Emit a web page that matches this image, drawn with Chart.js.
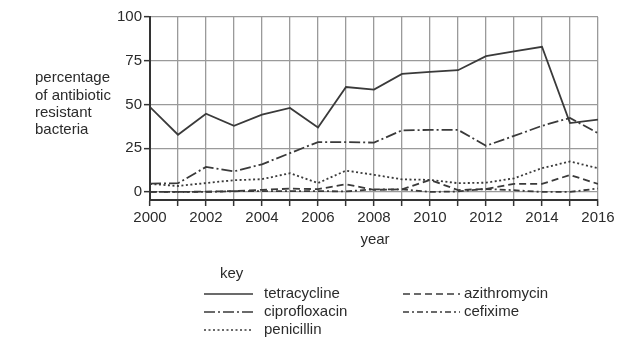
<!DOCTYPE html>
<html>
<head>
<meta charset="utf-8">
<script src="https://cdn.jsdelivr.net/npm/chart.js@4/dist/chart.umd.min.js"></script>
<style>
html,body{margin:0;padding:0;background:#fff;}
#wrap{width:639px;height:352px;position:relative;}
</style>
</head>
<body>
<div id="wrap"><canvas id="c" width="639" height="352"></canvas></div>
<script>
const years = [2000,2001,2002,2003,2004,2005,2006,2007,2008,2009,2010,2011,2012,2013,2014,2015,2016];
const tetracycline = [48.5,32.7,44.7,37.8,44.2,48,36.9,60,58.5,67.5,68.6,69.6,77.6,80.4,83,39.4,41.3];
const ciprofloxacin = [4.8,5,14.3,11.8,15.8,22.2,28.5,28.5,28.2,35.2,35.5,35.5,26.4,32,37.8,42.3,33.6];
const penicillin = [4.6,3.4,5.1,6.7,7.3,10.7,5.1,12.2,9.8,7.2,6.9,5,5.3,7.8,13.6,17.4,13.6];
const azithromycin = [0,0,0.2,0.5,1.2,1.9,1.6,4.4,1.2,1.5,6.9,1.1,1.7,4.6,4.6,9.7,4.6];
const cefixime = [0,0,0,0.4,0.5,0.5,0.5,0.3,1.5,1.5,0,0.3,1.7,1.0,0,0,2.0];
const yTickValues = [0,25,50,75,100];
const yTitleLines = ["percentage","of antibiotic","resistant","bacteria"];

const FONT = '"Liberation Sans", Arial, sans-serif';
const TXT = '#2b2b2b';
const LINE = '#3a3a3a';

const styles = {
  tetracycline: [],
  azithromycin: [7,4],
  ciprofloxacin: [11,3,2,3],
  cefixime: [6,3,2,3],
  penicillin: [2,2.5]
};

function ds(label, data, dash){
  return {
    label, data: years.map((y,i)=>({x:y,y:data[i]})),
    borderColor: LINE, borderWidth: 1.8, borderDash: dash,
    pointRadius: 0, tension: 0, fill: false
  };
}

const extras = {
  id: 'extras',
  afterDraw(chart){
    const ctx = chart.ctx;
    ctx.save();
    ctx.fillStyle = TXT;
    ctx.font = '15px ' + FONT;
    ctx.textBaseline = 'middle';
    ctx.textAlign = 'left';
    const ly = [78, 96, 113, 130];
    yTitleLines.forEach((t,i)=>ctx.fillText(t, 35, ly[i]));
    ctx.textAlign = 'center';
    ctx.fillText('year', 375, 240);
    ctx.textAlign = 'left';
    ctx.fillText('key', 220, 274);
    const items = [
      ['tetracycline', styles.tetracycline, 204, 253, 264, 294],
      ['ciprofloxacin', styles.ciprofloxacin, 204, 253, 264, 312],
      ['penicillin', styles.penicillin, 204, 253, 264, 330],
      ['azithromycin', styles.azithromycin, 403, 460, 464, 294],
      ['cefixime', styles.cefixime, 403, 460, 464, 312]
    ];
    items.forEach(([lab, dash, x1, x2, tx, y])=>{
      ctx.beginPath();
      ctx.setLineDash(dash);
      ctx.strokeStyle = LINE;
      ctx.lineWidth = 1.6;
      ctx.moveTo(x1, y); ctx.lineTo(x2, y);
      ctx.stroke();
      ctx.setLineDash([]);
      ctx.fillText(lab, tx, y);
    });
    ctx.restore();
  }
};

new Chart(document.getElementById('c'), {
  type: 'line',
  data: {
    datasets: [
      ds('tetracycline', tetracycline, styles.tetracycline),
      ds('ciprofloxacin', ciprofloxacin, styles.ciprofloxacin),
      ds('penicillin', penicillin, styles.penicillin),
      ds('azithromycin', azithromycin, styles.azithromycin),
      ds('cefixime', cefixime, styles.cefixime)
    ]
  },
  options: {
    responsive: false,
    animation: false,
    events: [],
    layout: { padding: { top: 17, right: 41, left: 0, bottom: 0 } },
    plugins: { legend: { display: false }, tooltip: { enabled: false } },
    scales: {
      x: {
        type: 'linear', min: 2000, max: 2016,
        afterFit(s){ s.height = 152; },
        afterBuildTicks(s){ s.ticks = years.map(v=>({value:v})); },
        ticks: {
          autoSkip: false, maxRotation: 0, padding: 3,
          color: TXT, font: { family: FONT, size: 15 },
          callback: v => (v % 2 === 0 ? String(v) : '')
        },
        grid: { color: '#9a9a9a', lineWidth: 1.3, tickLength: 6, tickColor: '#333', tickWidth: 1.5 },
        border: { color: '#333', width: 2 }
      },
      y: {
        min: -4.6, max: 100,
        afterFit(s){ s.width = 150; },
        afterBuildTicks(s){ s.ticks = yTickValues.map(v=>({value:v})); },
        ticks: { padding: 2, color: TXT, font: { family: FONT, size: 15 } },
        grid: { color: '#9a9a9a', lineWidth: 1.3, tickLength: 6, tickColor: '#333', tickWidth: 1.5 },
        border: { color: '#333', width: 2 }
      }
    }
  },
  plugins: [extras]
});
</script>
</body>
</html>
